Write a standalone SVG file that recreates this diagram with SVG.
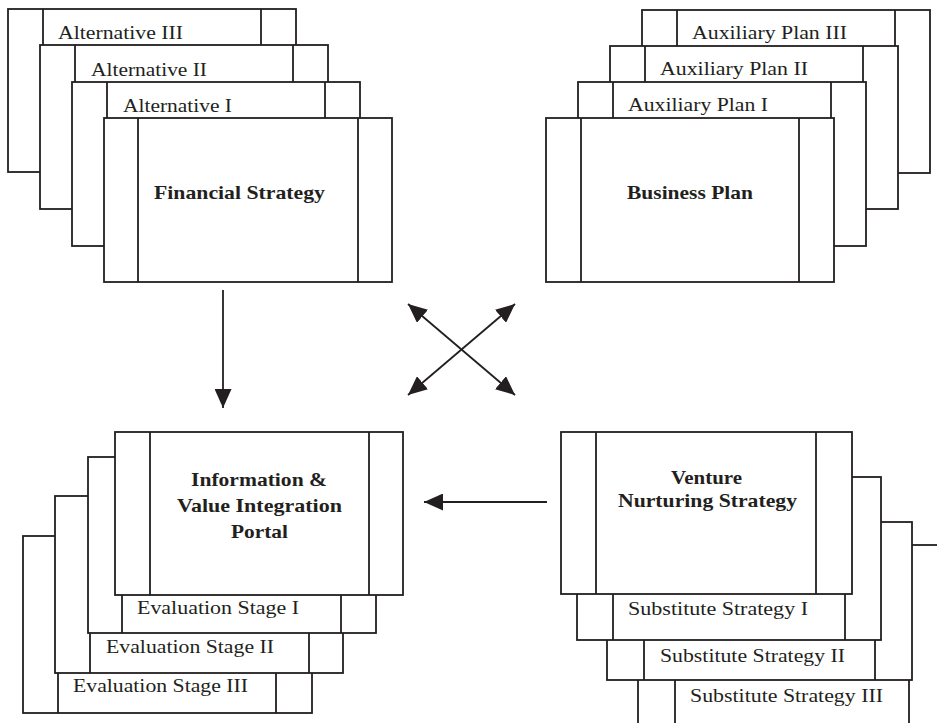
<svg xmlns="http://www.w3.org/2000/svg" width="937" height="723" viewBox="0 0 937 723">
<style>
.b{fill:#fff;stroke:#231f20;stroke-width:1.8}
.l{stroke:#231f20;stroke-width:1.8;fill:none}
.t{font-family:"Liberation Serif","Times New Roman",serif;font-size:19px;fill:#231f20}
.h{font-family:"Liberation Serif","Times New Roman",serif;font-size:19.5px;font-weight:bold;fill:#231f20}
.c{stroke:#231f20;stroke-width:1.8;fill:none}
</style>
<defs>
<marker id="ah" viewBox="0 0 19 17" refX="19" refY="8.5" markerWidth="19" markerHeight="17" markerUnits="userSpaceOnUse" orient="auto-start-reverse">
<path d="M0,0 L19,8.5 L0,17 z" fill="#231f20"/>
</marker>
</defs>
<rect width="937" height="723" fill="#fff"/>

<g id="financial-strategy">
<rect class="b" x="8" y="9" width="288" height="163"/><path class="l" d="M43,9V172M261,9V172"/>
<text class="t" x="58" y="39" textLength="125" lengthAdjust="spacingAndGlyphs">Alternative III</text>
<rect class="b" x="40" y="45" width="288" height="164"/><path class="l" d="M75,45V209M293,45V209"/>
<text class="t" x="91" y="76" textLength="116" lengthAdjust="spacingAndGlyphs">Alternative II</text>
<rect class="b" x="72" y="82" width="288" height="164"/><path class="l" d="M107,82V246M325,82V246"/>
<text class="t" x="123" y="112" textLength="109" lengthAdjust="spacingAndGlyphs">Alternative I</text>
<rect class="b" x="104" y="118" width="288" height="164"/><path class="l" d="M138,118V282M358,118V282"/>
<text class="h" x="154" y="199" textLength="171" lengthAdjust="spacingAndGlyphs">Financial Strategy</text>
</g>

<g id="business-plan">
<rect class="b" x="642" y="10" width="288" height="163"/><path class="l" d="M677,10V173M895,10V173"/>
<text class="t" x="692" y="39" textLength="155" lengthAdjust="spacingAndGlyphs">Auxiliary Plan III</text>
<rect class="b" x="610" y="46" width="288" height="163"/><path class="l" d="M645,46V209M863,46V209"/>
<text class="t" x="660" y="75" textLength="148" lengthAdjust="spacingAndGlyphs">Auxiliary Plan II</text>
<rect class="b" x="578" y="82" width="288" height="164"/><path class="l" d="M613,82V246M831,82V246"/>
<text class="t" x="628" y="111" textLength="140" lengthAdjust="spacingAndGlyphs">Auxiliary Plan I</text>
<rect class="b" x="546" y="118" width="288" height="164"/><path class="l" d="M581,118V282M799,118V282"/>
<text class="h" x="627" y="199" textLength="126" lengthAdjust="spacingAndGlyphs">Business Plan</text>
</g>

<g id="information-portal">
<rect class="b" x="23" y="536" width="289" height="177"/><path class="l" d="M58,536V713M276,536V713"/>
<text class="t" x="73" y="692" textLength="175" lengthAdjust="spacingAndGlyphs">Evaluation Stage III</text>
<rect class="b" x="55" y="496" width="288" height="177"/><path class="l" d="M90,496V673M309,496V673"/>
<text class="t" x="106" y="653" textLength="168" lengthAdjust="spacingAndGlyphs">Evaluation Stage II</text>
<rect class="b" x="88" y="457" width="288" height="176"/><path class="l" d="M122,457V633M341,457V633"/>
<text class="t" x="137" y="614" textLength="162" lengthAdjust="spacingAndGlyphs">Evaluation Stage I</text>
<rect class="b" x="115" y="432" width="288" height="163"/><path class="l" d="M150,432V595M369,432V595"/>
<text class="h" x="191" y="486" textLength="136" lengthAdjust="spacingAndGlyphs">Information &amp;</text>
<text class="h" x="177" y="512" textLength="165" lengthAdjust="spacingAndGlyphs">Value Integration</text>
<text class="h" x="231" y="538" textLength="57" lengthAdjust="spacingAndGlyphs">Portal</text>
</g>

<g id="venture-nurturing-strategy">
<rect class="b" x="638" y="545" width="306" height="200"/><path class="l" d="M675,545V745M909,545V745"/>
<text class="t" x="690" y="702" textLength="193" lengthAdjust="spacingAndGlyphs">Substitute Strategy III</text>
<rect class="b" x="607" y="522" width="305" height="158"/><path class="l" d="M644,522V680M875,522V680"/>
<text class="t" x="660" y="662" textLength="185" lengthAdjust="spacingAndGlyphs">Substitute Strategy II</text>
<rect class="b" x="577" y="477" width="304" height="163"/><path class="l" d="M613,477V640M845,477V640"/>
<text class="t" x="628" y="615" textLength="180" lengthAdjust="spacingAndGlyphs">Substitute Strategy I</text>
<rect class="b" x="561" y="432" width="291" height="162"/><path class="l" d="M596,432V594M816,432V594"/>
<text class="h" x="671" y="484" textLength="71" lengthAdjust="spacingAndGlyphs">Venture</text>
<text class="h" x="618" y="507" textLength="179" lengthAdjust="spacingAndGlyphs">Nurturing Strategy</text>
</g>

<g id="connectors">
<line class="c" x1="223" y1="290" x2="223" y2="408" marker-end="url(#ah)"/>
<line class="c" x1="547" y1="502" x2="424" y2="502" marker-end="url(#ah)"/>
<line class="c" x1="408" y1="304" x2="515" y2="395" marker-start="url(#ah)" marker-end="url(#ah)"/>
<line class="c" x1="515" y1="304" x2="408" y2="395" marker-start="url(#ah)" marker-end="url(#ah)"/>
</g>
</svg>
